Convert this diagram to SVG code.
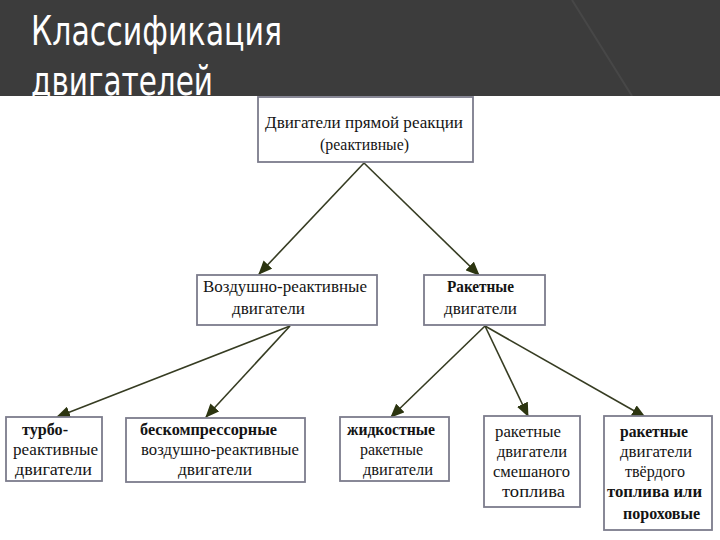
<svg xmlns="http://www.w3.org/2000/svg" width="720" height="540" viewBox="0 0 720 540">
  <style>
    .box { fill: #ffffff; stroke: #7c7c8c; stroke-width: 1.8; }
    .t { font-family: "Liberation Serif", "Times New Roman", serif; font-size: 16px; fill: #141414; }
    .b { font-weight: bold; }
    .title { font-family: "DejaVu Sans", "Noto Sans", sans-serif; font-size: 41px; fill: #ffffff; }
    .con { stroke: #363c22; stroke-width: 1.6; fill: none; marker-end: url(#arrow); }
  </style>
  <defs>
    <marker id="arrow" markerUnits="userSpaceOnUse" markerWidth="14" markerHeight="12" refX="13" refY="6" orient="auto">
      <path d="M0,0 L14,6 L0,12 z" fill="#2c3510"/>
    </marker>
    <clipPath id="hdr"><rect x="0" y="0" width="720" height="96"/></clipPath>
  </defs>

  <!-- header -->
  <rect x="0" y="0" width="720" height="96" fill="#3c3c3c"/>
  <path d="M572,0 Q600,45 632,96" stroke="#474747" stroke-width="2" fill="none"/>
  <g clip-path="url(#hdr)">
    <text class="title" x="31" y="45" textLength="251" lengthAdjust="spacingAndGlyphs">Классификация</text>
    <text class="title" x="31" y="95" textLength="182" lengthAdjust="spacingAndGlyphs">двигателей</text>
  </g>
  <rect x="0" y="96" width="720" height="444" fill="#ffffff"/>

  <!-- connectors -->
  <g id="connectors">
    <line class="con" x1="364" y1="163" x2="259" y2="274"/>
    <line class="con" x1="364" y1="163" x2="479" y2="275"/>
    <line class="con" x1="290" y1="326" x2="57" y2="417"/>
    <line class="con" x1="290" y1="326" x2="206" y2="417"/>
    <line class="con" x1="485" y1="326" x2="391" y2="417"/>
    <line class="con" x1="485" y1="326" x2="528" y2="416"/>
    <line class="con" x1="485" y1="326" x2="645" y2="417"/>
  </g>

  <g id="n-root">
    <rect class="box" x="258" y="97" width="215" height="65"/>
    <text class="t" x="265" y="128" textLength="198" lengthAdjust="spacingAndGlyphs">Двигатели прямой реакции</text>
    <text class="t" x="320" y="150" textLength="89" lengthAdjust="spacingAndGlyphs">(реактивные)</text>
  </g>

  <g id="n-air">
    <rect class="box" x="197" y="275" width="180" height="50"/>
    <text class="t" x="203" y="292" textLength="164" lengthAdjust="spacingAndGlyphs">Воздушно-реактивные</text>
    <text class="t" x="232" y="314" textLength="73" lengthAdjust="spacingAndGlyphs">двигатели</text>
  </g>

  <g id="n-rocket">
    <rect class="box" x="424" y="275" width="121" height="50"/>
    <text class="t b" x="447" y="292" textLength="67" lengthAdjust="spacingAndGlyphs">Ракетные</text>
    <text class="t" x="444" y="314" textLength="73" lengthAdjust="spacingAndGlyphs">двигатели</text>
  </g>

  <g id="n-turbo">
    <rect class="box" x="6" y="417" width="96" height="64"/>
    <text class="t b" x="22" y="435" textLength="46" lengthAdjust="spacingAndGlyphs">турбо-</text>
    <text class="t" x="13" y="455" textLength="85" lengthAdjust="spacingAndGlyphs">реактивные</text>
    <text class="t" x="15" y="475" textLength="77" lengthAdjust="spacingAndGlyphs">двигатели</text>
  </g>

  <g id="n-nocomp">
    <rect class="box" x="126" y="418" width="179" height="64"/>
    <text class="t b" x="140" y="435" textLength="137" lengthAdjust="spacingAndGlyphs">бескомпрессорные</text>
    <text class="t" x="141" y="455" textLength="158" lengthAdjust="spacingAndGlyphs">воздушно-реактивные</text>
    <text class="t" x="178" y="475" textLength="74" lengthAdjust="spacingAndGlyphs">двигатели</text>
  </g>

  <g id="n-liquid">
    <rect class="box" x="340" y="417" width="109" height="64"/>
    <text class="t b" x="347" y="435" textLength="88" lengthAdjust="spacingAndGlyphs">жидкостные</text>
    <text class="t" x="360" y="455" textLength="63" lengthAdjust="spacingAndGlyphs">ракетные</text>
    <text class="t" x="363" y="475" textLength="70" lengthAdjust="spacingAndGlyphs">двигатели</text>
  </g>

  <g id="n-hybrid">
    <rect class="box" x="484" y="416" width="96" height="91"/>
    <text class="t" x="495" y="437" textLength="66" lengthAdjust="spacingAndGlyphs">ракетные</text>
    <text class="t" x="497" y="457" textLength="70" lengthAdjust="spacingAndGlyphs">двигатели</text>
    <text class="t" x="493" y="477" textLength="77" lengthAdjust="spacingAndGlyphs">смешаного</text>
    <text class="t" x="502" y="497" textLength="63" lengthAdjust="spacingAndGlyphs">топлива</text>
  </g>

  <g id="n-solid">
    <rect class="box" x="604" y="416" width="108" height="114"/>
    <text class="t b" x="620" y="437" textLength="68" lengthAdjust="spacingAndGlyphs">ракетные</text>
    <text class="t" x="620" y="457" textLength="72" lengthAdjust="spacingAndGlyphs">двигатели</text>
    <text class="t" x="625" y="477" textLength="60" lengthAdjust="spacingAndGlyphs">твёрдого</text>
    <text class="t b" x="607" y="497" textLength="95" lengthAdjust="spacingAndGlyphs">топлива или</text>
    <text class="t b" x="623" y="519" textLength="77" lengthAdjust="spacingAndGlyphs">пороховые</text>
  </g>
</svg>
